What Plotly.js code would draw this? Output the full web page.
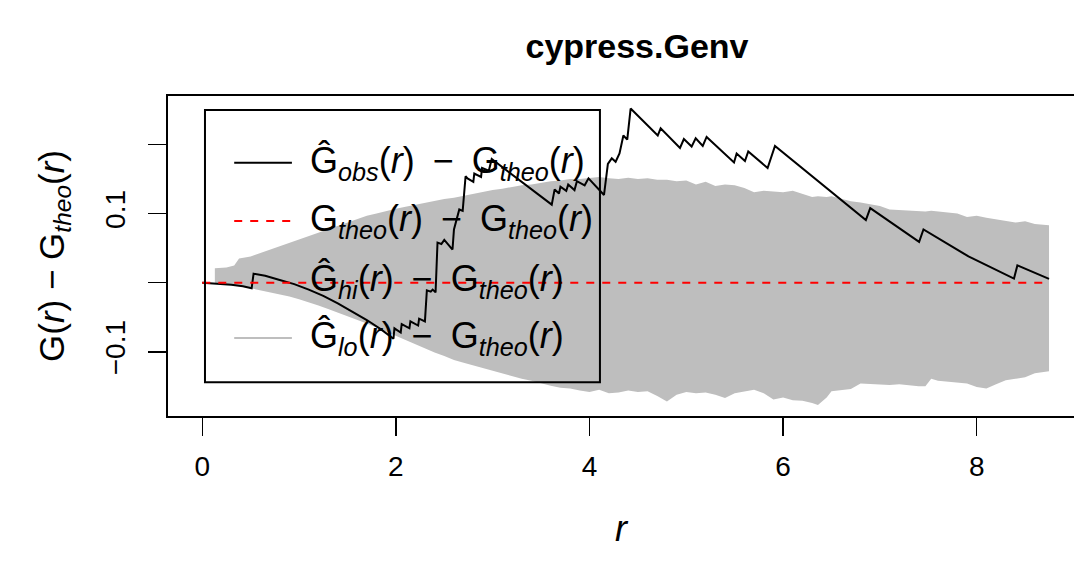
<!DOCTYPE html>
<html>
<head>
<meta charset="utf-8">
<script src="https://cdn.plot.ly/plotly-3.0.1.min.js"></script>
<style>
  html, body { margin: 0; padding: 0; background: #ffffff; }
  #chart { width: 1074px; height: 565px; }
</style>
</head>
<body>
<div id="chart"></div>
<script>
// ---- data (r, G(r) - Gtheo(r)) ----
const rObs = [0, 0.15, 0.30, 0.42, 0.51, 0.53, 0.65, 0.80, 0.95, 1.10, 1.25, 1.40, 1.55, 1.70, 1.85, 1.975,
  1.985, 2.05, 2.06, 2.14, 2.15, 2.23, 2.24, 2.30, 2.32, 2.36, 2.38, 2.41, 2.425, 2.43, 2.47, 2.50, 2.585,
  2.60, 2.655, 2.69, 2.72, 2.74, 2.80, 2.81, 2.88, 2.89, 2.96, 2.99, 3.61, 3.64, 3.685, 3.70, 3.76, 3.78,
  3.845, 3.87, 3.95, 3.99, 4.15, 4.19, 4.23, 4.27, 4.31, 4.35, 4.39, 4.425, 4.705, 4.735, 4.935, 4.975,
  5.055, 5.097, 5.17, 5.21, 5.493, 5.52, 5.606, 5.64, 5.84, 5.916, 6.855, 6.90, 7.405, 7.45, 7.915,
  8.385, 8.42, 8.747];
const gObs = [0, -0.001, -0.003, -0.005, -0.008, 0.013, 0.010, 0.004, -0.002, -0.010, -0.019, -0.030, -0.042,
  -0.054, -0.068, -0.081, -0.066, -0.072, -0.060, -0.066, -0.056, -0.062, -0.052, -0.056, -0.011, -0.013,
  -0.010, -0.014, 0.040, 0.058, 0.056, 0.062, 0.048, 0.077, 0.106, 0.104, 0.154, 0.151, 0.146, 0.158, 0.153,
  0.166, 0.162, 0.179, 0.113, 0.135, 0.129, 0.139, 0.133, 0.142, 0.134, 0.147, 0.141, 0.151, 0.127, 0.172,
  0.180, 0.175, 0.187, 0.213, 0.207, 0.252, 0.213, 0.2235, 0.195, 0.208, 0.197, 0.209, 0.198, 0.211, 0.174,
  0.187, 0.176, 0.190, 0.166, 0.198, 0.0906, 0.108, 0.059, 0.077, 0.038, 0.006, 0.025, 0.0055];

const rTheo = [0, 8.747];
const gTheo = [0, 0];

const rEnv = [0.13, 0.25, 0.33, 0.38, 0.50, 0.60, 0.70, 0.80, 0.90, 1.00, 1.10, 1.20, 1.30, 1.40, 1.50, 1.60,
  1.70, 1.80, 1.90, 2.00, 2.10, 2.20, 2.30, 2.40, 2.50, 2.60, 2.70, 2.80, 2.90, 3.00, 3.10, 3.20, 3.30, 3.40,
  3.50, 3.60, 3.70, 3.80, 3.90, 4.00, 4.10, 4.20, 4.30, 4.40, 4.50, 4.60, 4.70, 4.80, 4.90, 5.00, 5.10, 5.20,
  5.30, 5.40, 5.50, 5.60, 5.70, 5.80, 5.90, 6.00, 6.10, 6.20, 6.30, 6.36, 6.45, 6.50, 6.60, 6.70, 6.80, 6.90,
  7.00, 7.10, 7.20, 7.30, 7.40, 7.47, 7.53, 7.60, 7.70, 7.80, 7.90, 8.00, 8.10, 8.20, 8.30, 8.40, 8.50, 8.60,
  8.747];
const gHi = [0.021, 0.022, 0.025, 0.035, 0.038, 0.043, 0.048, 0.053, 0.057, 0.063, 0.068, 0.073, 0.078, 0.083,
  0.088, 0.092, 0.097, 0.100, 0.104, 0.107, 0.110, 0.113, 0.116, 0.118, 0.121, 0.123, 0.126, 0.128, 0.131,
  0.134, 0.136, 0.139, 0.141, 0.142, 0.145, 0.147, 0.148, 0.150, 0.150, 0.152, 0.153, 0.151, 0.150, 0.152,
  0.150, 0.151, 0.149, 0.149, 0.147, 0.148, 0.142, 0.146, 0.140, 0.142, 0.141, 0.137, 0.131, 0.133, 0.132,
  0.131, 0.133, 0.129, 0.124, 0.125, 0.124, 0.125, 0.121, 0.118, 0.116, 0.113, 0.111, 0.106, 0.105, 0.104,
  0.104, 0.103, 0.104, 0.103, 0.101, 0.100, 0.095, 0.097, 0.094, 0.092, 0.090, 0.087, 0.089, 0.085, 0.083];
const gLo = [0.000, -0.002, -0.004, -0.005, -0.008, -0.011, -0.013, -0.016, -0.020, -0.024, -0.028, -0.033,
  -0.038, -0.043, -0.048, -0.053, -0.059, -0.065, -0.071, -0.078, -0.084, -0.090, -0.096, -0.101, -0.106,
  -0.112, -0.116, -0.120, -0.124, -0.128, -0.132, -0.135, -0.139, -0.142, -0.146, -0.149, -0.152, -0.153,
  -0.156, -0.158, -0.155, -0.160, -0.159, -0.156, -0.158, -0.157, -0.164, -0.172, -0.162, -0.158, -0.160,
  -0.159, -0.162, -0.167, -0.160, -0.158, -0.155, -0.160, -0.169, -0.166, -0.170, -0.171, -0.174, -0.177,
  -0.166, -0.157, -0.155, -0.154, -0.146, -0.147, -0.148, -0.148, -0.147, -0.149, -0.150, -0.150, -0.139,
  -0.142, -0.143, -0.144, -0.146, -0.151, -0.153, -0.147, -0.141, -0.139, -0.137, -0.131, -0.128];

const xTickVals = [0, 2, 4, 6, 8];
const xTickText = ['0', '2', '4', '6', '8'];
const yTickVals = [-0.1, 0.1];
const yTickText = ['\u22120.1', '0.1'];
const yMinorTickVals = [0, 0.2];

const MINUS = '\u2002\u2212\u2002';
const legendLabels = [
  'Ĝ<sub><i>obs</i></sub>(<i>r</i>)' + MINUS + 'G<sub><i>theo</i></sub>(<i>r</i>)',
  'G<sub><i>theo</i></sub>(<i>r</i>)' + MINUS + 'G<sub><i>theo</i></sub>(<i>r</i>)',
  'Ĝ<sub><i>hi</i></sub>(<i>r</i>)' + MINUS + 'G<sub><i>theo</i></sub>(<i>r</i>)',
  'Ĝ<sub><i>lo</i></sub>(<i>r</i>)' + MINUS + 'G<sub><i>theo</i></sub>(<i>r</i>)'
];

// ---- styling ----
const FONT = 'Liberation Sans, Arial, Helvetica, sans-serif';
const GREY = '#bebebe';

const traces = [
  { x: rEnv, y: gHi, type: 'scatter', mode: 'lines', line: { width: 0, color: GREY },
    hoverinfo: 'skip', showlegend: false },
  { x: rEnv, y: gLo, type: 'scatter', mode: 'lines', line: { width: 0, color: GREY },
    fill: 'tonexty', fillcolor: GREY, hoverinfo: 'skip', showlegend: false },
  { x: rObs, y: gObs, type: 'scatter', mode: 'lines', line: { color: '#000000', width: 2 },
    showlegend: false },
  { x: rTheo, y: gTheo, type: 'scatter', mode: 'lines', line: { color: '#ff0000', width: 2, dash: '8px,8px' },
    showlegend: false }
];

// legend (drawn in data coordinates like R's legend())
const legLeft = 0.028, legRight = 4.108, legTop = 0.25, legBottom = -0.144;
const legLineX0 = 0.33, legLineX1 = 0.926, legTextX = 1.09;
const legRowsY = [0.1736, 0.0893, 0.0025, -0.0800];
const legStyles = [
  { color: '#000000', dash: 'solid', show: true },
  { color: '#ff0000', dash: '8px,8px', show: true },
  { color: '#ffffff', dash: 'solid', show: false },
  { color: GREY, dash: 'solid', show: true }
];

const shapes = [
  { type: 'rect', xref: 'x', yref: 'y', x0: legLeft, x1: legRight, y0: legBottom, y1: legTop,
    line: { color: '#000000', width: 2 }, fillcolor: 'rgba(0,0,0,0)', layer: 'above' }
];
const annotations = [];
legendLabels.forEach((lab, i) => {
  if (legStyles[i].show) {
    shapes.push({ type: 'line', xref: 'x', yref: 'y', x0: legLineX0, x1: legLineX1,
      y0: legRowsY[i], y1: legRowsY[i],
      line: { color: legStyles[i].color, width: 2, dash: legStyles[i].dash }, layer: 'above' });
  }
  annotations.push({ xref: 'x', yref: 'y', x: legTextX, y: legRowsY[i], xanchor: 'left', yanchor: 'middle',
    text: lab, showarrow: false, font: { family: FONT, size: 36, color: '#000000' } });
});

const layout = {
  width: 1074, height: 565,
  paper_bgcolor: '#ffffff', plot_bgcolor: '#ffffff',
  margin: { l: 168, r: 0, t: 96, b: 149, pad: 0 },
  showlegend: false,
  font: { family: FONT, color: '#000000' },
  title: { text: '<b>cypress.Genv</b>', font: { family: FONT, size: 34, color: '#000000' },
    xref: 'container', yref: 'container', x: 637 / 1074, y: 1 - 46 / 565,
    xanchor: 'center', yanchor: 'middle' },
  xaxis: {
    range: [-0.354, 9.005], showgrid: false, zeroline: false,
    showline: true, mirror: true, linecolor: '#000000', linewidth: 2,
    tickmode: 'array', tickvals: xTickVals, ticktext: xTickText,
    ticks: 'outside', ticklen: 18, tickwidth: 1.5, tickcolor: '#000000',
    ticklabelstandoff: 6,
    tickfont: { family: FONT, size: 28, color: '#000000' },
    title: { text: '<i>r</i>', font: { family: FONT, size: 36, color: '#000000' }, standoff: 35 },
    automargin: false
  },
  yaxis: {
    range: [-0.1929, 0.2702], showgrid: false, zeroline: false,
    showline: true, mirror: false, linecolor: '#000000', linewidth: 2,
    tickmode: 'array', tickvals: yTickVals, ticktext: yTickText,
    ticks: 'outside', ticklen: 18, tickwidth: 1.5, tickcolor: '#000000',
    minor: { tickmode: 'array', tickvals: yMinorTickVals, ticks: 'outside', ticklen: 18,
      tickwidth: 1.5, tickcolor: '#000000', showgrid: false },
    tickangle: -90, ticklabelstandoff: 12,
    tickfont: { family: FONT, size: 28, color: '#000000' },
    title: { text: 'G(<i>r</i>) \u2212 G<sub><i>theo</i></sub>(<i>r</i>)',
      font: { family: FONT, size: 35, color: '#000000' }, standoff: 25 },
    automargin: false
  },
  shapes: shapes,
  annotations: annotations
};

Plotly.newPlot('chart', traces, layout, { staticPlot: true, displayModeBar: false });
</script>
</body>
</html>
